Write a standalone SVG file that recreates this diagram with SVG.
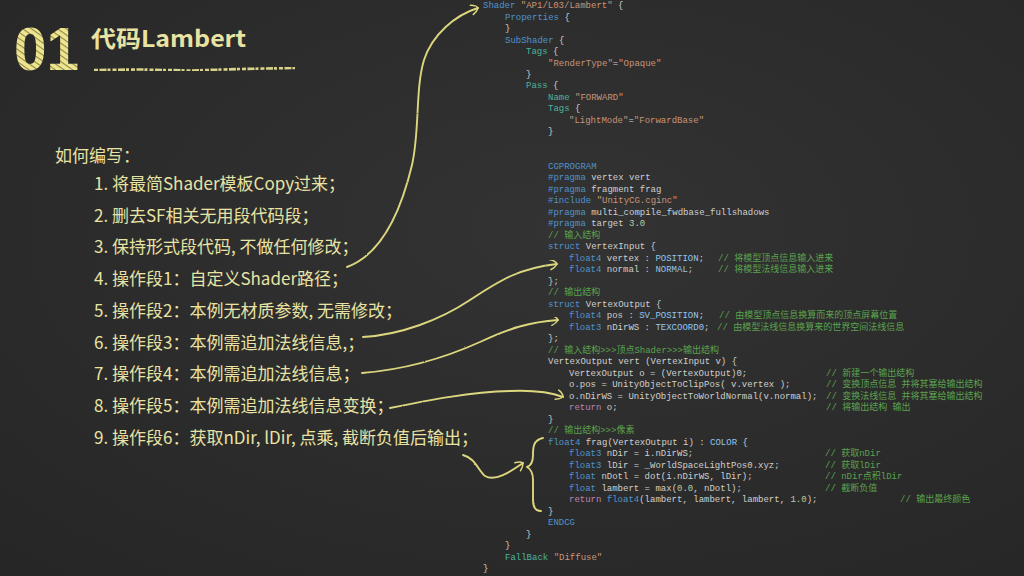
<svg xmlns="http://www.w3.org/2000/svg" width="1024" height="576" viewBox="0 0 1024 576">
<defs>
<style>
.cn{font-family:"Noto Sans CJK SC","Liberation Sans",sans-serif;fill:#e8e3a4;font-size:17px}
.code{font-family:"Liberation Mono","Noto Sans CJK SC",monospace;font-size:9px;fill:#cfcfcf;white-space:pre}
.kw{fill:#4f93cf}
.tl{fill:#4bb39c}
.st{fill:#c99578}
.cm{fill:#5ba24e}
.sm{fill:#93c5ee}
.nm{fill:#b5cea8}
.rt{fill:#bb84b8}
.chalk{fill:none;stroke:#dcd67e;stroke-width:1.9;stroke-linecap:round;stroke-linejoin:round;filter:url(#rough)}
</style>
<radialGradient id="bg" cx="0.55" cy="0.4" r="0.8">
<stop offset="0" stop-color="#333333"/>
<stop offset="1" stop-color="#262626"/>
</radialGradient>
<pattern id="hatch" width="5" height="5" patternUnits="userSpaceOnUse" patternTransform="rotate(35)">
<rect width="5" height="5" fill="#efe58e"/>
<rect width="5" height="1.1" fill="#8d8650"/>
</pattern>
<filter id="rough" x="-5%" y="-5%" width="110%" height="110%">
<feTurbulence type="fractalNoise" baseFrequency="0.9" numOctaves="2" seed="3"/>
<feDisplacementMap in="SourceGraphic" scale="1.6" xChannelSelector="R" yChannelSelector="G"/>
</filter>
<marker id="chev" viewBox="0 0 12 12" refX="9" refY="6" markerWidth="13" markerHeight="13" markerUnits="userSpaceOnUse" orient="auto">
<path d="M3,1.5 Q8,3 9,6 Q7,9 3,10.5" fill="none" stroke="#dcd67e" stroke-width="1.4" stroke-linecap="round"/>
</marker>
</defs>
<rect width="1024" height="576" fill="url(#bg)"/>

<g id="title">
<text x="14" y="70" font-family="Liberation Sans,sans-serif" font-weight="bold" font-size="61" textLength="65" lengthAdjust="spacingAndGlyphs" fill="url(#hatch)">01</text>
<text x="91" y="47" font-family="'Noto Sans CJK SC','Liberation Sans',sans-serif" font-weight="bold" font-size="23" fill="#e9e3a3" textLength="155" lengthAdjust="spacingAndGlyphs">代码Lambert</text>
<path d="M94,70 L140,69.5 L190,70.5 L240,69 L295,68" fill="none" stroke="#d9d38a" stroke-width="2.6" stroke-dasharray="4 1.5 7 1 3 2" filter="url(#rough)"/>
</g>

<g id="steps">
<text id="heading" class="cn" x="55" y="162">如何编写：</text>
<text id="step1" class="cn" x="94" y="190">1. 将最简Shader模板Copy过来；</text>
<text id="step2" class="cn" x="94" y="222">2. 删去SF相关无用段代码段；</text>
<text id="step3" class="cn" x="94" y="253">3. 保持形式段代码, 不做任何修改；</text>
<text id="step4" class="cn" x="94" y="285">4. 操作段1：自定义Shader路径；</text>
<text id="step5" class="cn" x="94" y="317">5. 操作段2：本例无材质参数, 无需修改；</text>
<text id="step6" class="cn" x="94" y="349">6. 操作段3：本例需追加法线信息,；</text>
<text id="step7" class="cn" x="94" y="380">7. 操作段4：本例需追加法线信息；</text>
<text id="step8" class="cn" x="94" y="412">8. 操作段5：本例需追加法线信息变换；</text>
<text id="step9" class="cn" x="94" y="444">9. 操作段6：获取nDir, lDir, 点乘, 截断负值后输出；</text>
</g>

<g id="code" class="code">
<text x="483" y="8"><tspan class="kw">Shader</tspan> <tspan class="st">"AP1/L03/Lambert"</tspan> {</text>
<text x="505" y="19.5"><tspan class="kw">Properties</tspan> {</text>
<text x="505" y="31">}</text>
<text x="505" y="42.5"><tspan class="kw">SubShader</tspan> {</text>
<text x="526" y="54"><tspan class="tl">Tags</tspan> {</text>
<text x="548" y="65.5"><tspan class="st">"RenderType"</tspan>=<tspan class="st">"Opaque"</tspan></text>
<text x="526" y="77">}</text>
<text x="526" y="88.4"><tspan class="tl">Pass</tspan> {</text>
<text x="548" y="99.9"><tspan class="tl">Name</tspan> <tspan class="st">"FORWARD"</tspan></text>
<text x="548" y="111.4"><tspan class="tl">Tags</tspan> {</text>
<text x="569" y="122.9"><tspan class="st">"LightMode"</tspan>=<tspan class="st">"ForwardBase"</tspan></text>
<text x="548" y="134.4">}</text>
<text x="548" y="168.9" class="kw">CGPROGRAM</text>
<text x="548" y="180.4"><tspan class="kw">#pragma</tspan> vertex vert</text>
<text x="548" y="191.8"><tspan class="kw">#pragma</tspan> fragment frag</text>
<text x="548" y="203.3"><tspan class="kw">#include</tspan> <tspan class="st">"UnityCG.cginc"</tspan></text>
<text x="548" y="214.8"><tspan class="kw">#pragma</tspan> multi_compile_fwdbase_fullshadows</text>
<text x="548" y="226.3"><tspan class="kw">#pragma</tspan> target <tspan class="nm">3.0</tspan></text>
<text x="548" y="237.8" class="cm">// 输入结构</text>
<text x="548" y="249.3"><tspan class="kw">struct</tspan> VertexInput {</text>
<text x="569" y="260.8"><tspan class="kw">float4</tspan> vertex : <tspan class="sm">POSITION</tspan>;<tspan x="718" class="cm">// 将模型顶点信息输入进来</tspan></text>
<text x="569" y="272.3"><tspan class="kw">float4</tspan> normal : <tspan class="sm">NORMAL</tspan>;<tspan x="718" class="cm">// 将模型法线信息输入进来</tspan></text>
<text x="548" y="283.8">};</text>
<text x="548" y="295.2" class="cm">// 输出结构</text>
<text x="548" y="306.7"><tspan class="kw">struct</tspan> VertexOutput {</text>
<text x="569" y="318.2"><tspan class="kw">float4</tspan> pos : <tspan class="sm">SV_POSITION</tspan>;<tspan x="719" class="cm">// 由模型顶点信息换算而来的顶点屏幕位置</tspan></text>
<text x="569" y="329.7"><tspan class="kw">float3</tspan> nDirWS : <tspan class="sm">TEXCOORD0</tspan>;<tspan x="717" class="cm">// 由模型法线信息换算来的世界空间法线信息</tspan></text>
<text x="548" y="341.2">};</text>
<text x="548" y="352.7" class="cm">// 输入结构&gt;&gt;&gt;顶点Shader&gt;&gt;&gt;输出结构</text>
<text x="548" y="364.2">VertexOutput vert (VertexInput v) {</text>
<text x="569" y="375.7">VertexOutput o = (VertexOutput)0;<tspan x="826" class="cm">// 新建一个输出结构</tspan></text>
<text x="569" y="387.2">o.pos = UnityObjectToClipPos( v.vertex );<tspan x="826" class="cm">// 变换顶点信息 并将其塞给输出结构</tspan></text>
<text x="569" y="398.7">o.nDirWS = UnityObjectToWorldNormal(v.normal);<tspan x="826" class="cm">// 变换法线信息 并将其塞给输出结构</tspan></text>
<text x="569" y="410.2"><tspan class="rt">return</tspan> o;<tspan x="826" class="cm">// 将输出结构 输出</tspan></text>
<text x="548" y="421.6">}</text>
<text x="548" y="433.1" class="cm">// 输出结构&gt;&gt;&gt;像素</text>
<text x="548" y="444.6"><tspan class="kw">float4</tspan> frag(VertexOutput i) : <tspan class="sm">COLOR</tspan> {</text>
<text x="569" y="456.1"><tspan class="kw">float3</tspan> nDir = i.nDirWS;<tspan x="825" class="cm">// 获取nDir</tspan></text>
<text x="569" y="467.6"><tspan class="kw">float3</tspan> lDir = _WorldSpaceLightPos0.xyz;<tspan x="825" class="cm">// 获取lDir</tspan></text>
<text x="569" y="479.1"><tspan class="kw">float</tspan> nDotl = dot(i.nDirWS, lDir);<tspan x="825" class="cm">// nDir点积lDir</tspan></text>
<text x="569" y="490.6"><tspan class="kw">float</tspan> lambert = max(<tspan class="nm">0.0</tspan>, nDotl);<tspan x="825" class="cm">// 截断负值</tspan></text>
<text x="569" y="502.1"><tspan class="rt">return</tspan> <tspan class="kw">float4</tspan>(lambert, lambert, lambert, <tspan class="nm">1.0</tspan>);<tspan x="900" class="cm">// 输出最终颜色</tspan></text>
<text x="548" y="513.6">}</text>
<text x="548" y="525.1" class="kw">ENDCG</text>
<text x="526" y="536.5">}</text>
<text x="505" y="548">}</text>
<text x="505" y="559.5"><tspan class="tl">FallBack</tspan> <tspan class="st">"Diffuse"</tspan></text>
<text x="483" y="571">}</text>
</g>

<g id="connectors">
<path class="chalk" marker-end="url(#chev)" d="M347,267 C380,255 400,215 412,165 C420,130 415,90 424,60 C432,35 455,15 478,8"/>
<path class="chalk" marker-end="url(#chev)" d="M363,337 C400,335 440,320 470,300 C500,280 520,268 557,264"/>
<path class="chalk" marker-end="url(#chev)" d="M362,373 C400,370 440,360 480,342 C510,328 530,322 558,320"/>
<path class="chalk" marker-end="url(#chev)" d="M390,408 C430,400 470,392 510,391 C535,390 550,392 563,397"/>
<path class="chalk" marker-end="url(#chev)" d="M463,455 C475,458 478,470 485,476 C495,482 510,472 523,463"/>
<path class="chalk" d="M543,438 C533,440 533,448 533,455 C533,462 530,466 527,467 C531,469 533,473 533,480 L533,500 C533,507 536,511 541,511"/>
</g>
</svg>
